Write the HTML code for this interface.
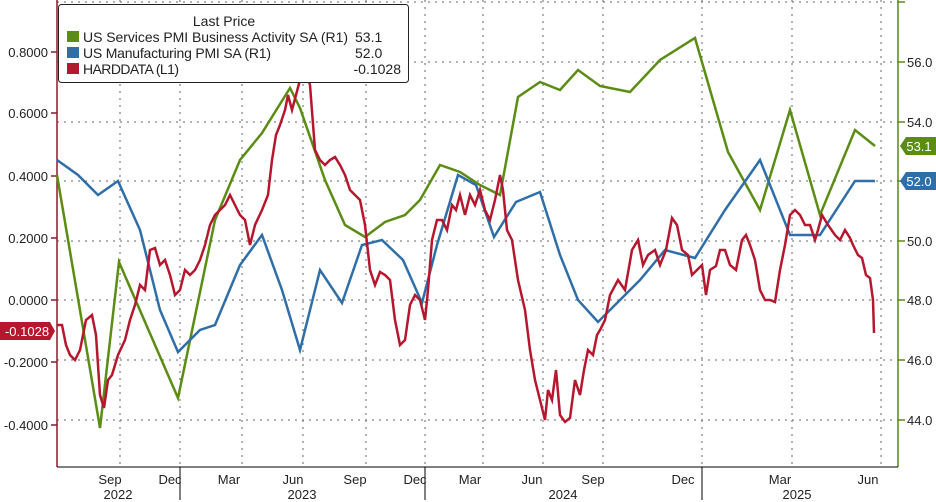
<!DOCTYPE html><html><head><style>body{margin:0;background:#fff}svg{display:block;font-family:"Liberation Sans",sans-serif}</style></head><body>
<svg width="936" height="502" viewBox="0 0 936 502">
<g stroke="#666" stroke-width="1" stroke-dasharray="2,5">
<line x1="57" x2="898" y1="2" y2="2"/><line x1="57" x2="898" y1="62" y2="62"/><line x1="57" x2="898" y1="122" y2="122"/><line x1="57" x2="898" y1="181" y2="181"/><line x1="57" x2="898" y1="241" y2="241"/><line x1="57" x2="898" y1="300" y2="300"/><line x1="57" x2="898" y1="360" y2="360"/><line x1="57" x2="898" y1="420" y2="420"/>
<line x1="120" x2="120" y1="0" y2="467"/><line x1="180" x2="180" y1="0" y2="467"/><line x1="242" x2="242" y1="0" y2="467"/><line x1="303" x2="303" y1="0" y2="467"/><line x1="366" x2="366" y1="0" y2="467"/><line x1="425" x2="425" y1="0" y2="467"/><line x1="483" x2="483" y1="0" y2="467"/><line x1="543" x2="543" y1="0" y2="467"/><line x1="603" x2="603" y1="0" y2="467"/><line x1="702" x2="702" y1="0" y2="467"/><line x1="792" x2="792" y1="0" y2="467"/><line x1="881" x2="881" y1="0" y2="467"/>
</g>
<line x1="57" x2="57" y1="0" y2="467" stroke="#8b1a2a" stroke-width="1.5"/>
<line x1="898" x2="898" y1="0" y2="467" stroke="#5a8a10" stroke-width="1.5"/>
<line x1="57" x2="898" y1="467" y2="467" stroke="#000"/>
<g stroke="#8b1a2a" stroke-width="1.5">
<line x1="51" x2="57" y1="52" y2="52"/><line x1="51" x2="57" y1="113" y2="113"/><line x1="51" x2="57" y1="176" y2="176"/><line x1="51" x2="57" y1="238" y2="238"/><line x1="51" x2="57" y1="300" y2="300"/><line x1="51" x2="57" y1="362" y2="362"/><line x1="51" x2="57" y1="425" y2="425"/>
</g>
<g stroke="#5a8a10" stroke-width="1.5">
<line x1="898" x2="905" y1="2" y2="2"/><line x1="898" x2="905" y1="62" y2="62"/><line x1="898" x2="905" y1="122" y2="122"/><line x1="898" x2="905" y1="181" y2="181"/><line x1="898" x2="905" y1="241" y2="241"/><line x1="898" x2="905" y1="300" y2="300"/><line x1="898" x2="905" y1="360" y2="360"/><line x1="898" x2="905" y1="420" y2="420"/>
</g>
<g font-size="13" fill="#222" text-anchor="end">
<text x="48" y="57">0.8000</text><text x="48" y="118">0.6000</text><text x="48" y="181">0.4000</text><text x="48" y="243">0.2000</text><text x="48" y="305">0.0000</text><text x="48" y="367">-0.2000</text><text x="48" y="430">-0.4000</text>
</g>
<g font-size="13" fill="#222">
<text x="907" y="67">56.0</text><text x="907" y="127">54.0</text><text x="907" y="246">50.0</text><text x="907" y="305">48.0</text><text x="907" y="365">46.0</text><text x="907" y="425">44.0</text>
</g>
<g stroke="#000" stroke-width="1">
<line x1="180" x2="180" y1="467" y2="500"/><line x1="425" x2="425" y1="467" y2="500"/><line x1="702" x2="702" y1="467" y2="500"/>
</g>
<g font-size="13" fill="#222" text-anchor="middle">
<text x="110" y="484">Sep</text><text x="170" y="484">Dec</text><text x="229" y="484">Mar</text><text x="293" y="484">Jun</text><text x="355" y="484">Sep</text><text x="415" y="484">Dec</text><text x="470" y="484">Mar</text><text x="532" y="484">Jun</text><text x="593" y="484">Sep</text><text x="683" y="484">Dec</text><text x="780" y="484">Mar</text><text x="868" y="484">Jun</text>
<text x="118" y="499">2022</text><text x="302" y="499">2023</text><text x="563" y="499">2024</text><text x="797" y="499">2025</text>
</g>
<polyline fill="none" stroke="#5b8c14" stroke-width="2.5" points="57,175 100,428 119,262 178,398 215,220 240,160 262,133 290,88 300,108 325,180 345,225 365,237 385,222 405,215 420,200 440,165 460,172 480,185 500,195 518,97 540,82 560,90 578,70 600,86 630,92 660,60 695,38 728,152 760,210 790,110 820,215 855,130 875,146"/>
<polyline fill="none" stroke="#2f6ea8" stroke-width="2.5" points="57,160 78,175 98,195 118,181 140,230 160,310 178,352 200,330 215,325 240,265 262,235 282,290 300,350 320,270 342,303 362,245 382,240 403,260 422,303 437,245 458,175 476,185 494,237 516,202 540,192 560,255 578,300 598,322 620,300 640,280 665,250 695,258 725,210 760,160 790,235 820,235 855,181 875,181"/>
<polyline fill="none" stroke="#b5172f" stroke-width="2.5" points="57,325 62,325 66,345 70,355 75,360 80,350 86,320 92,315 96,335 100,395 104,408 108,380 112,375 118,355 125,340 130,320 135,305 140,285 145,290 150,250 155,248 160,265 165,260 170,275 175,295 180,290 185,270 190,275 195,270 200,260 205,245 210,225 215,215 220,210 225,205 230,195 235,205 240,215 245,220 250,245 255,225 262,210 268,195 272,160 276,135 280,125 285,110 288,95 292,110 296,95 300,80 305,70 310,85 315,150 320,160 325,165 330,160 335,157 340,165 345,175 350,190 355,195 360,200 365,225 370,270 375,285 380,272 385,275 390,280 395,320 400,345 405,340 410,305 415,295 420,300 425,320 428,290 432,240 437,220 442,220 447,230 452,205 456,210 460,195 465,215 470,195 475,205 480,190 485,210 490,220 495,200 500,175 503,190 507,230 512,240 518,280 525,310 530,350 535,380 540,400 545,420 548,390 552,400 556,370 560,415 565,422 570,418 575,380 580,395 584,370 588,350 593,355 597,335 600,330 605,320 610,295 618,280 625,290 632,250 638,240 643,265 648,255 655,250 660,265 666,250 672,218 677,225 682,250 688,255 692,275 697,270 702,265 706,295 710,270 716,266 720,250 725,250 730,265 736,270 742,240 746,235 750,245 755,260 760,290 765,300 770,300 775,302 780,270 785,245 790,215 795,210 800,215 805,225 810,225 815,240 818,230 822,215 828,225 835,235 840,240 845,230 850,238 853,245 858,255 862,258 866,275 870,278 873,300 874,333"/>
<rect x="58.5" y="4.5" width="350" height="78" rx="3" fill="#fff" stroke="#222" stroke-width="1"/>
<g font-size="14" fill="#222" xml:space="preserve">
<text x="224" y="26" text-anchor="middle">Last Price</text>
<rect x="67" y="31" width="12" height="11" fill="#5b8c14"/><text x="83" y="42" textLength="265" lengthAdjust="spacing">US Services PMI Business Activity SA  (R1)</text><text x="355" y="42">53.1</text>
<rect x="67" y="47" width="12" height="11" fill="#2f6ea8"/><text x="83" y="58" textLength="188" lengthAdjust="spacing">US Manufacturing PMI SA  (R1)</text><text x="355" y="58">52.0</text>
<rect x="67" y="63" width="12" height="11" fill="#b5172f"/><text x="83" y="74" textLength="96" lengthAdjust="spacing">HARDDATA  (L1)</text><text x="401" y="74" text-anchor="end">-0.1028</text>
</g>
<polygon points="0,322 50,322 55,331 50,340 0,340" fill="#b5172f"/><text x="27" y="336" font-size="13" fill="#fff" text-anchor="middle">-0.1028</text>
<polygon points="900,146 906,137 936,137 936,155 906,155" fill="#5b8c14"/><text x="919" y="151" font-size="13" fill="#fff" text-anchor="middle">53.1</text>
<polygon points="900,181 906,172 936,172 936,190 906,190" fill="#2f6ea8"/><text x="919" y="186" font-size="13" fill="#fff" text-anchor="middle">52.0</text>
</svg></body></html>
